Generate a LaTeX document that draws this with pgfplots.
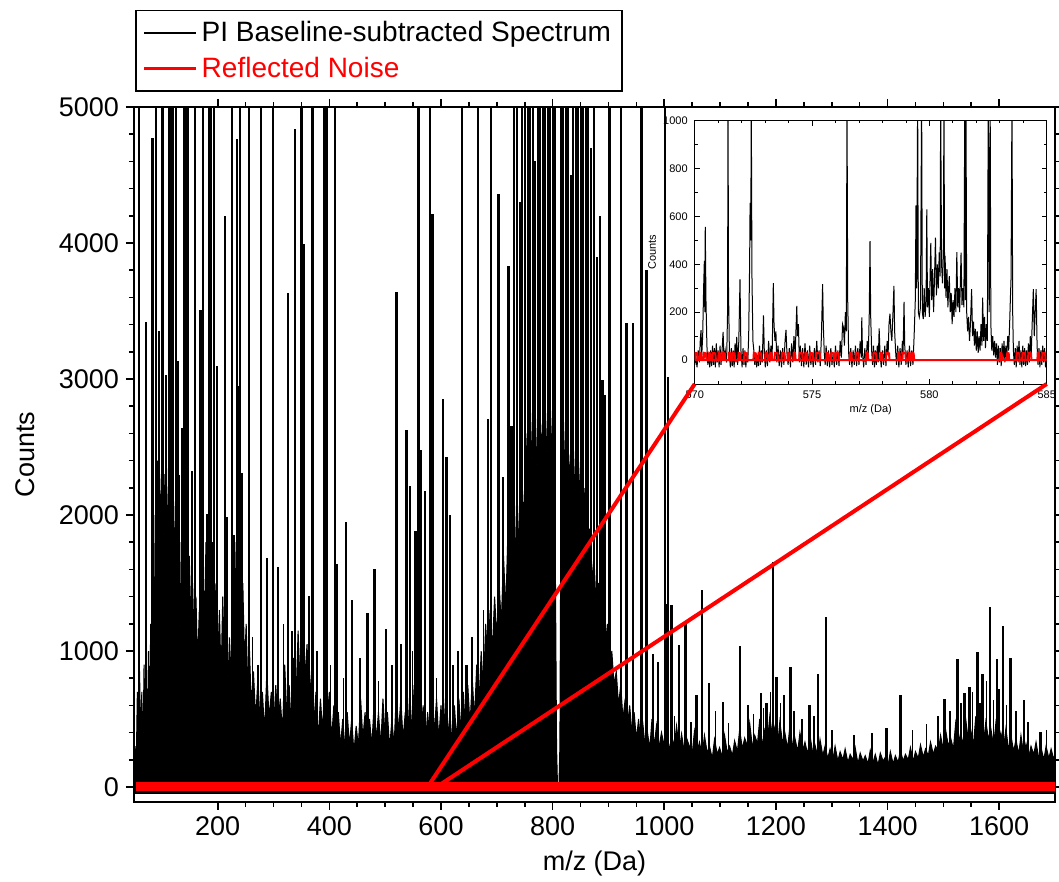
\documentclass[border=0pt]{standalone}
\usepackage{fontspec}
\setmainfont{Liberation Sans}
\usepackage{pgfplots}
\pgfplotsset{compat=1.18}
\begin{document}
\begin{tikzpicture}
\useasboundingbox (-67pt,-40pt) rectangle (462.5pt,401pt);
\begin{axis}[
 name=main, at={(0pt,0pt)}, anchor=south west,
 scale only axis, width=460.5pt, height=347.5pt,
 xmin=50, xmax=1700, ymin=-110, ymax=5000,
 xtick={200,400,...,1600}, minor x tick num=3,
 ytick={0,1000,...,5000}, minor y tick num=4,
 tick align=outside, major tick length=4pt, minor tick length=2.5pt,
 axis line style={line width=0.8pt},
 every tick/.style={black, line width=0.8pt},
 tick label style={font=\fontsize{13.5}{15}\selectfont},
 /pgf/number format/assume math mode=true,
 /pgf/number format/1000 sep={},
 label style={font=\fontsize{13.5}{15}\selectfont},
 xlabel={m/z (Da)}, ylabel={Counts},
 xlabel style={at={(axis description cs:0.5,-0.088)}, anchor=center},
 ylabel style={at={(axis description cs:-0.118,0.5)}, anchor=center},
 legend style={at={(axis description cs:0.001,1.14)}, anchor=north west, draw=black, line width=0.8pt, font=\fontsize{14}{16}\selectfont, inner sep=3.5pt, row sep=2pt},
 legend cell align=left,
 legend image code/.code={\draw[#1] (0pt,0pt) -- (26pt,0pt);},
]
\addlegendimage{black, line width=0.9pt}
\addlegendentry{PI Baseline-subtracted Spectrum}
\addlegendimage{red, line width=1.5pt}
\addlegendentry{\textcolor{red}{Reflected Noise}}
\addplot[black, fill=black, line width=0.5pt, forget plot] coordinates {
(50,-50)(52,300)(54,150)(56,700)(58,250)(60,850)(62,300)(64,700)(66,200)(68,900)(70,350)(72,800)(74,400)(76,1000)(78,500)(80,1200)(82,600)(84,1600)(86,900)(88,2000)(90,1400)(92,2400)(94,1600)(96,2300)(98,1800)(100,2400)(102,1700)(104,2300)(106,1500)(108,2200)(110,1800)(112,2400)(114,1600)(116,2300)(118,1700)(120,2300)(122,1400)(124,2100)(126,1300)(128,2000)(130,1500)(132,1800)(134,1100)(137,1700)(140,1000)(143,1500)(146,1100)(149,1700)(152,1200)(155,1500)(158,1000)(161,1400)(164,900)(167,1300)(170,1100)(173,1700)(176,1200)(179,1800)(182,1300)(185,1700)(188,1100)(191,1800)(194,1200)(197,1500)(200,900)(203,1300)(206,800)(209,1400)(212,900)(215,1200)(218,700)(221,1100)(224,800)(227,1300)(230,1000)(233,1800)(236,1300)(239,1700)(242,1000)(245,1500)(248,900)(251,1200)(254,700)(257,1000)(260,600)(264,850)(268,500)(272,800)(276,450)(280,700)(284,400)(288,850)(292,500)(296,700)(300,400)(304,750)(308,450)(312,650)(316,400)(320,900)(324,500)(328,750)(332,400)(336,950)(340,600)(344,1150)(348,700)(352,1250)(356,800)(360,1050)(364,600)(368,850)(372,450)(376,700)(380,350)(384,650)(388,400)(392,850)(396,500)(400,700)(404,350)(408,600)(412,300)(416,550)(420,300)(424,500)(428,280)(432,550)(436,300)(440,500)(444,250)(448,450)(452,300)(456,650)(460,350)(464,550)(468,250)(472,500)(476,300)(480,600)(484,350)(488,550)(492,300)(496,650)(500,350)(504,550)(508,280)(512,500)(516,300)(520,700)(524,400)(528,650)(532,350)(536,550)(540,300)(544,700)(548,400)(552,750)(556,450)(560,650)(564,350)(568,600)(572,300)(576,550)(580,350)(584,700)(588,400)(592,650)(596,350)(600,600)(604,300)(608,650)(612,350)(616,550)(620,300)(624,600)(628,350)(632,650)(636,400)(640,700)(644,400)(648,750)(652,450)(656,800)(660,500)(664,900)(668,600)(672,1000)(676,700)(680,1200)(684,900)(688,1300)(692,1000)(696,1400)(700,1100)(704,1500)(708,1200)(712,1700)(716,1300)(720,1900)(724,1400)(728,2000)(732,1500)(736,2200)(740,1700)(744,2400)(748,1900)(752,2600)(756,2100)(760,2800)(764,2200)(768,2900)(772,2300)(776,3000)(780,2400)(784,3000)(788,2400)(792,2900)(796,2300)(800,2800)(804,2200)(807,300)(809,-40)(811,-40)(813,300)(815,2300)(818,2900)(822,2300)(826,2800)(830,2200)(834,2700)(838,2100)(842,2600)(846,2000)(850,2400)(854,1900)(858,2200)(862,1700)(866,1900)(870,1500)(874,1700)(878,1300)(882,1500)(886,1200)(890,1400)(894,1000)(898,1200)(902,850)(906,1000)(910,750)(914,850)(918,600)(922,750)(926,500)(930,650)(934,450)(938,600)(942,400)(946,550)(950,350)(954,500)(958,300)(962,450)(966,280)(970,400)(974,280)(978,500)(982,300)(986,450)(990,280)(995,400)
(1000,300)(1005,420)(1009,260)(1013,380)(1018,300)(1022,450)(1027,270)(1031,390)(1036,250)(1040,360)(1045,300)(1050,240)(1054,410)(1059,260)(1063,330)(1068,230)(1072,380)(1077,250)(1081,300)(1086,210)(1090,350)(1095,240)(1099,290)(1104,220)(1108,380)(1113,250)(1117,300)(1122,230)(1126,340)(1131,260)(1135,420)(1140,280)(1144,360)(1149,300)(1153,470)(1158,290)(1162,380)(1167,320)(1171,500)(1176,300)(1180,420)(1185,340)(1189,520)(1194,360)(1198,440)(1203,300)(1207,480)(1212,320)(1216,400)(1221,280)(1225,450)(1230,300)(1234,360)(1239,260)(1243,400)(1248,270)(1252,330)(1257,240)(1261,380)(1266,250)(1270,310)(1275,220)(1279,350)(1284,230)(1288,300)(1293,210)(1297,280)(1302,200)(1306,300)(1311,190)(1315,260)(1320,200)(1324,280)(1329,180)(1333,240)(1338,200)(1342,290)(1347,170)(1351,250)(1356,190)(1360,230)(1365,170)(1369,270)(1374,180)(1378,240)(1383,160)(1387,250)(1392,190)(1396,220)(1401,160)(1405,260)(1410,170)(1414,230)(1419,180)(1423,270)(1428,190)(1432,240)(1437,200)(1441,290)(1446,190)(1450,260)(1455,210)(1459,310)(1464,220)(1468,280)(1473,230)(1477,330)(1482,240)(1486,300)(1491,260)(1495,380)(1500,270)(1504,420)(1509,300)(1513,360)(1518,280)(1522,470)(1527,320)(1531,400)(1536,300)(1540,500)(1545,330)(1549,420)(1554,310)(1558,520)(1563,340)(1567,450)(1572,320)(1576,480)(1581,350)(1585,430)(1590,300)(1594,470)(1599,320)(1603,400)(1608,290)(1612,430)(1617,270)(1621,380)(1626,260)(1630,350)(1635,240)(1639,380)(1644,230)(1648,320)(1653,220)(1657,300)(1662,240)(1666,330)(1671,210)(1675,290)(1680,200)(1684,300)(1689,210)(1693,280)(1698,200)(1700,250)(1700,-50)
};
\addplot[black, line width=0.8pt, ycomb, forget plot] coordinates {
(262,1100)(272,900)(318,1200)(333,1150)(378,1000)(402,900)(425,800)(455,950)(488,780)(512,900)(528,1050)(549,1000)(592,800)(622,900)(630,1000)(655,1100)(676,1300)
(1018,520)(1048,480)(1092,560)(1115,470)(1150,600)(1160,540)(1178,580)(1190,700)(1208,620)(1232,560)(1247,500)(1268,520)(1300,420)(1340,380)(1372,400)(1445,420)(1470,460)(1490,520)(1512,560)(1532,620)(1552,700)(1566,620)(1577,780)(1590,640)(1600,720)(1613,600)(1630,560)(1652,480)(1685,420)
};
\addplot[black, line width=1.2pt, ycomb, forget plot] coordinates {
(59,5200)(71,3420)(83,4773)(89,5200)(92,2376)(95,3354)(101,5200)(107,3033)(113,5200)(117,5200)(120,5200)(125,5200)(128,3131)(130,2294)(137,2639)(140,5200)(144,5200)(147,5200)(154,2327)(159,5200)(169,3509)(172,1654)(174,5200)(181,2005)(184,5200)(188,5200)(193,5200)(199,3092)(213,4198)(216,1982)(226,5200)(229,1851)(234,4766)(238,2950)(240,5200)(244,2310)(256,5200)(277,5200)(288,1687)(299,5200)(308,1621)(326,3634)(338,4838)(350,5200)(354,3991)(363,1408)(370,5200)(390,5200)(394,5200)(396,5200)(410,5200)(414,1638)(430,1950)(441,1375)(468,1283)(481,1605)(501,1162)(520,3640)(538,2622)(544,2212)(554,1884)(560,5200)(563,2475)(571,2180)(580,5200)(585,4215)(604,2853)(610,2427)(616,2000)(638,5200)(646,897)(666,5200)(684,2705)(690,5200)(703,4362)(711,2280)(721,3830)(726,2656)(731,5200)(889,2990)(893,2885)(902,5200)(923,5200)(932,3410)(944,3410)(959,5200)(968,3804)(980,981)(989,921)(1001,5200)(1004,1346)(1007,3016)(1013,1338)(1026,1044)(1038,1208)(1058,677)(1068,1449)(1080,762)(1105,627)(1136,1039)(1173,689)(1183,620)(1195,1652)(1201,811)(1215,677)(1226,880)(1260,606)(1275,828)(1290,1247)(1398,431)(1423,677)(1502,645)(1525,940)(1538,694)(1547,738)(1561,996)(1570,831)(1583,1324)(1596,940)(1607,1181)(1620,946)(1644,640)(1674,407)
};
\addplot[black, line width=1pt, ycomb, forget plot] coordinates {
(736,5200)(741,4300)(745,5200)(750,5200)(755,5200)(760,5200)(764,5200)(769,4600)(773,5200)(778,5200)(782,5200)(787,5200)(791,5200)(796,5200)(800,5200)(805,5200)(815,5200)(819,5200)(824,5200)(828,5200)(833,4500)(837,5200)(842,5200)(846,5200)(851,5200)(855,5200)(860,5200)(864,5200)(869,4700)(874,5200)(879,3900)(884,4200)
};
\addplot[red, line width=4.2pt, forget plot] coordinates {(53,5)(1700,5)};
\coordinate (za) at (axis cs:576,0);
\coordinate (zb) at (axis cs:592,0);
\end{axis}
\begin{axis}[
 name=inset, at={(280.35pt,209pt)}, anchor=south west,
 scale only axis, width=176pt, height=131.65pt,
 xmin=570, xmax=585, ymin=-100, ymax=1000,
 xtick={570,575,580,585}, minor x tick num=4,
 ytick={0,200,...,1000}, minor y tick num=1,
 tick align=inside, major tick length=2.5pt, minor tick length=1.4pt,
 axis line style={line width=0.4pt},
 every tick/.style={black, line width=0.4pt},
 tick label style={font=\fontsize{5.5}{6.5}\selectfont},
 /pgf/number format/assume math mode=true,
 /pgf/number format/1000 sep={},
 label style={font=\fontsize{5.5}{6.5}\selectfont},
 xlabel={m/z (Da)}, ylabel={Counts},
 xlabel style={at={(axis description cs:0.5,-0.099)}, anchor=center},
 ylabel style={at={(axis description cs:-0.121,0.5)}, anchor=center},
]
\addplot[black, line width=0.5pt] coordinates {
(570.00,-20)(570.05,10)(570.10,-30)(570.15,40)(570.20,-10)(570.24,90)(570.27,125)(570.30,20)(570.34,100)(570.38,300)(570.41,414)(570.43,200)(570.45,556)(570.48,250)(570.52,60)(570.56,-20)(570.60,30)(570.64,-30)(570.68,40)(570.72,-25)(570.76,60)(570.80,-20)(570.84,50)(570.88,-30)(570.92,70)(570.96,-10)(571.00,40)(571.04,-30)(571.08,60)(571.12,-20)(571.16,30)(571.21,118)(571.25,0)(571.30,40)(571.36,-10)(571.40,200)(571.42,1100)(571.44,300)(571.48,20)(571.52,-30)(571.56,50)(571.60,-25)(571.64,40)(571.68,-30)(571.72,70)(571.76,-10)(571.79,97)(571.83,-20)(571.88,80)(571.93,337)(571.97,40)(572.02,-30)(572.06,50)(572.10,-20)(572.14,40)(572.18,-30)(572.22,30)(572.26,-10)(572.30,100)(572.34,400)(572.36,657)(572.39,500)(572.41,1100)(572.44,350)(572.48,80)(572.52,40)(572.56,-20)(572.60,30)(572.64,-30)(572.68,20)(572.72,-25)(572.76,60)(572.80,-20)(572.84,40)(572.88,-10)(572.93,187)(572.97,20)(573.01,-30)(573.05,40)(573.10,-25)(573.15,80)(573.20,-10)(573.25,60)(573.30,20)(573.35,321)(573.38,150)(573.42,80)(573.46,120)(573.50,-10)(573.55,60)(573.60,-25)(573.65,40)(573.70,-30)(573.75,50)(573.80,-20)(573.85,80)(573.89,126)(573.93,30)(573.98,-20)(574.03,50)(574.08,-30)(574.13,70)(574.18,-10)(574.23,100)(574.28,20)(574.35,226)(574.38,100)(574.42,150)(574.46,-10)(574.50,60)(574.55,-25)(574.60,50)(574.65,-30)(574.70,70)(574.75,-20)(574.80,40)(574.85,-30)(574.90,60)(574.95,-20)(575.00,30)(575.05,-30)(575.10,50)(575.15,-20)(575.20,80)(575.25,-10)(575.30,40)(575.35,-25)(575.40,100)(575.45,317)(575.48,150)(575.52,30)(575.56,-20)(575.60,60)(575.65,-25)(575.70,40)(575.75,-30)(575.80,50)(575.85,-20)(575.90,30)(575.95,-30)(576.00,60)(576.05,-20)(576.10,40)(576.15,-25)(576.20,80)(576.25,10)(576.30,150)(576.34,136)(576.38,60)(576.42,200)(576.46,120)(576.49,1100)(576.52,250)(576.56,30)(576.60,-20)(576.65,50)(576.70,-30)(576.75,40)(576.80,-20)(576.85,60)(576.90,-25)(576.95,50)(577.00,-20)(577.05,80)(577.10,10)(577.12,178)(577.15,30)(577.20,-30)(577.25,50)(577.30,-20)(577.35,80)(577.40,30)(577.44,200)(577.47,497)(577.50,180)(577.54,40)(577.58,-20)(577.62,60)(577.66,-30)(577.70,40)(577.74,-20)(577.78,60)(577.82,-10)(577.86,132)(577.90,20)(577.95,-30)(578.00,40)(578.05,-20)(578.10,60)(578.15,-25)(578.20,80)(578.24,20)(578.28,150)(578.32,194)(578.36,120)(578.40,80)(578.45,200)(578.49,310)(578.52,120)(578.56,40)(578.60,-20)(578.65,60)(578.70,-30)(578.75,50)(578.80,-20)(578.85,80)(578.88,30)(578.92,243)(578.95,60)(579.00,-20)(579.05,40)(579.10,-30)(579.15,60)(579.20,-25)(579.25,40)(579.30,-20)(579.35,100)(579.40,250)(579.43,646)(579.46,300)(579.50,1100)(579.53,200)(579.57,180)(579.62,220)(579.67,1100)(579.70,200)(579.74,171)(579.78,300)(579.82,180)(579.86,250)(579.89,629)(579.92,220)(579.96,300)(580.00,180)(580.03,350)(580.06,490)(580.10,250)(580.14,380)(580.18,200)(580.22,350)(580.26,511)(580.30,270)(580.34,400)(580.38,300)(580.42,450)(580.46,350)(580.48,1100)(580.52,400)(580.56,320)(580.60,450)(580.62,1100)(580.65,300)(580.67,435)(580.71,260)(580.75,380)(580.79,220)(580.82,300)(580.85,351)(580.89,200)(580.93,280)(580.97,150)(581.01,250)(581.05,180)(581.09,300)(581.13,200)(581.17,451)(581.21,220)(581.25,300)(581.29,200)(581.35,449)(581.39,230)(581.43,300)(581.47,220)(581.51,1100)(581.53,250)(581.56,1100)(581.59,200)(581.63,120)(581.67,180)(581.71,80)(581.75,150)(581.80,296)(581.84,100)(581.88,160)(581.92,60)(581.96,130)(582.00,40)(582.04,120)(582.08,30)(582.12,100)(582.16,40)(582.20,150)(582.24,60)(582.27,261)(582.31,80)(582.35,180)(582.39,50)(582.43,150)(582.47,80)(582.51,1100)(582.55,200)(582.59,1100)(582.62,150)(582.66,40)(582.70,100)(582.74,20)(582.78,80)(582.82,10)(582.86,70)(582.90,-20)(582.94,60)(582.98,-10)(583.02,50)(583.06,-25)(583.10,70)(583.14,0)(583.18,80)(583.22,-10)(583.26,60)(583.30,20)(583.34,100)(583.38,40)(583.42,150)(583.45,250)(583.48,340)(583.52,1100)(583.55,200)(583.58,40)(583.62,-20)(583.66,50)(583.70,-30)(583.74,60)(583.78,-10)(583.82,80)(583.86,-20)(583.90,40)(583.94,-30)(583.98,60)(584.02,-20)(584.06,50)(584.10,-25)(584.14,40)(584.18,-20)(584.22,70)(584.26,-10)(584.30,100)(584.34,20)(584.38,150)(584.43,296)(584.47,100)(584.51,200)(584.55,296)(584.59,60)(584.63,-20)(584.67,50)(584.71,-30)(584.75,40)(584.79,-20)(584.83,60)(584.87,-10)(584.91,50)(584.95,-30)(585.00,20)
};
\addplot[red, line width=1.1pt] coordinates {(570,0)(585,0)};
\addplot[red, line width=1pt] coordinates {
(570.00,0)(570.02,30)(570.10,28)(570.12,0)(570.20,0)(570.22,30)(570.28,28)(570.30,0)(570.38,0)(570.40,30)(570.48,28)(570.50,0)(570.60,0)(570.62,30)(570.66,28)(570.68,0)(570.75,0)(570.77,30)(570.88,28)(570.90,0)(571.00,0)(571.02,30)(571.08,28)(571.10,0)(571.18,0)(571.20,30)(571.28,28)(571.30,0)(571.45,0)(571.47,30)(571.53,28)(571.55,0)(571.60,0)(571.62,30)(571.70,28)(571.72,0)(571.85,0)(571.87,30)(571.93,28)(571.95,0)(572.10,0)(572.12,30)(572.23,28)(572.25,0)(572.50,0)(572.52,30)(572.60,28)(572.62,0)(572.70,0)(572.72,30)(572.83,28)(572.85,0)(573.00,0)(573.02,30)(573.10,28)(573.12,0)(573.20,0)(573.22,30)(573.28,28)(573.30,0)(573.40,0)(573.42,30)(573.53,28)(573.55,0)(573.70,0)(573.72,30)(573.83,28)(573.85,0)(573.95,0)(573.97,30)(574.03,28)(574.05,0)(574.20,0)(574.22,30)(574.28,28)(574.30,0)(574.45,0)(574.47,30)(574.58,28)(574.60,0)(574.70,0)(574.72,30)(574.78,28)(574.80,0)(574.90,0)(574.92,30)(575.03,28)(575.05,0)(575.15,0)(575.17,30)(575.33,28)(575.35,0)(575.60,0)(575.62,30)(575.68,28)(575.70,0)(575.80,0)(575.82,30)(575.93,28)(575.95,0)(576.00,0)(576.02,30)(576.13,28)(576.15,0)(576.60,0)(576.62,30)(576.68,28)(576.70,0)(576.85,0)(576.87,30)(576.98,28)(577.00,0)(577.30,0)(577.32,30)(577.38,28)(577.40,0)(577.60,0)(577.62,30)(577.73,28)(577.75,0)(577.90,0)(577.92,30)(577.98,28)(578.00,0)(578.15,0)(578.17,30)(578.28,28)(578.30,0)(578.65,0)(578.67,30)(578.73,28)(578.75,0)(578.85,0)(578.87,30)(578.98,28)(579.00,0)(579.10,0)(579.12,30)(579.18,28)(579.20,0)(579.25,0)(579.27,30)(579.33,28)(579.35,0)(583.00,0)(583.02,30)(583.08,28)(583.10,0)(583.30,0)(583.32,30)(583.38,28)(583.40,0)(583.70,0)(583.72,30)(583.83,28)(583.85,0)(583.95,0)(583.97,30)(584.08,28)(584.10,0)(584.20,0)(584.22,30)(584.33,28)(584.35,0)(584.60,0)(584.62,30)(584.68,28)(584.70,0)(584.80,0)(584.82,30)(584.93,28)(584.95,0)
};
\end{axis}
\draw[red, line width=2pt] (za) -- (inset.south west);
\draw[red, line width=2pt] (zb) -- (inset.south east);
\end{tikzpicture}
\end{document}
